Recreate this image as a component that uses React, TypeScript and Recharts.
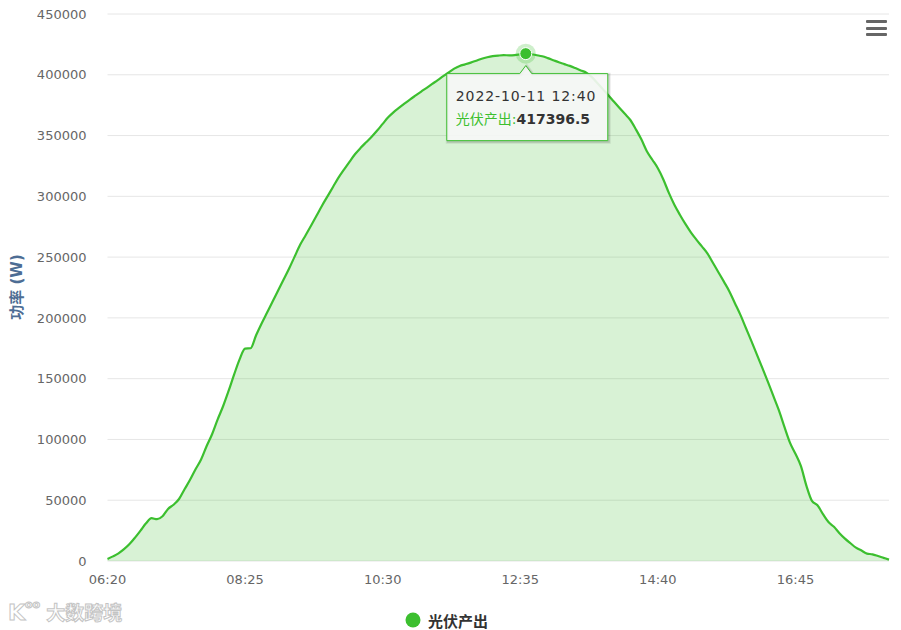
import React from "react";
import { AreaChart, Area, XAxis, YAxis, CartesianGrid, Legend, ReferenceDot } from "recharts";

const times = [
  "06:20","06:25","06:30","06:35","06:40","06:45","06:50","06:55",
  "07:00","07:05","07:10","07:15","07:20","07:25","07:30","07:35","07:40","07:45","07:50","07:55",
  "08:00","08:05","08:10","08:15","08:20","08:25","08:30","08:35","08:40","08:45","08:50","08:55",
  "09:00","09:05","09:10","09:15","09:20","09:25","09:30","09:35","09:40","09:45","09:50","09:55",
  "10:00","10:05","10:10","10:15","10:20","10:25","10:30","10:35","10:40","10:45","10:50","10:55",
  "11:00","11:05","11:10","11:15","11:20","11:25","11:30","11:35","11:40","11:45","11:50","11:55",
  "12:00","12:05","12:10","12:15","12:20","12:25","12:30","12:35","12:40","12:45","12:50","12:55",
  "13:00","13:05","13:10","13:15","13:20","13:25","13:30","13:35","13:40","13:45","13:50","13:55",
  "14:00","14:05","14:10","14:15","14:20","14:25","14:30","14:35","14:40","14:45","14:50","14:55",
  "15:00","15:05","15:10","15:15","15:20","15:25","15:30","15:35","15:40","15:45","15:50","15:55",
  "16:00","16:05","16:10","16:15","16:20","16:25","16:30","16:35","16:40","16:45","16:50","16:55",
  "17:00","17:05","17:10","17:15","17:20","17:25","17:30","17:35","17:40","17:45","17:50","17:55",
  "18:00","18:05","18:10",
];

const power = [
  1700, 3800, 6300, 9700, 13900, 19200, 25000, 31000, 35200, 34400,
  36800, 42800, 46300, 51000, 59000, 66800, 75500, 83500, 94400, 104300,
  116300, 127300, 139900, 153300, 165900, 174700, 175000, 185700, 195400, 204400,
  213400, 222500, 231500, 240600, 250400, 260100, 268000, 276000, 284200, 292500,
  300200, 307900, 315600, 322200, 328600, 334800, 339900, 344500, 349000, 354100,
  359600, 365000, 369300, 372900, 376400, 379800, 383000, 386200, 389300, 392500,
  395600, 398900, 402000, 405100, 407300, 408600, 410000, 411600, 413200, 414400,
  415300, 415800, 416100, 416000, 416200, 416800, 417396.5, 416900, 416100, 415200,
  413700, 412000, 410300, 408800, 407300, 405500, 403600, 401800, 398100, 393300,
  388200, 383200, 378000, 372900, 367900, 362800, 355200, 346900, 337100, 330100,
  323100, 313900, 302800, 293100, 284900, 277300, 270400, 264400, 258800, 253100,
  245400, 237600, 229800, 221800, 212100, 202500, 191700, 180900, 169800, 158700,
  147300, 135600, 123900, 110300, 97400, 88200, 78000, 61800, 49500, 45900,
  38600, 32100, 28100, 22900, 18400, 14600, 11000, 8600, 6100, 5500,
  4100, 2600, 1100,
];

const yTicks = [0, 50000, 100000, 150000, 200000, 250000, 300000, 350000, 400000, 450000];
const seriesName = "光伏产出";
const yTitle = "功率 (W)";
const hoverIndex = 76;
const hoverDate = "2022-10-11";

const data = times.map((t, i) => ({ time: t, power: power[i] }));

const GREEN = "#3cbf2f";
const FONT = "'DejaVu Sans', 'Noto Sans CJK SC', sans-serif";

const HoverShape = (props: any) => {
  const { cx, cy } = props;
  if (cx == null || cy == null) return null;
  const L = cx - 79;
  const R = cx + 82;
  const T = cy + 20;
  const B = cy + 87;
  const d = `M ${L} ${T} L ${cx - 6} ${T} L ${cx} ${cy + 12} L ${cx + 6} ${T} L ${R} ${T} L ${R} ${B} L ${L} ${B} Z`;
  const p = data[hoverIndex];
  return (
    <g>
      <circle cx={cx} cy={cy} r={10} fill={GREEN} fillOpacity={0.25} />
      <circle cx={cx} cy={cy} r={6} fill={GREEN} stroke="#fff" strokeWidth={1} />
      <path d={d} transform="translate(1,1)" fill="none" stroke="rgba(0,0,0,0.08)" strokeWidth={4} />
      <path d={d} transform="translate(1,1)" fill="none" stroke="rgba(0,0,0,0.12)" strokeWidth={2} />
      <path d={d} fill="rgba(247,247,247,0.9)" stroke={GREEN} strokeWidth={1} />
      <text x={L + 9} y={T + 27.5} fontFamily={FONT} fontSize={14} fill="#333" letterSpacing={0.9}>
        {`${hoverDate} ${p.time}`}
      </text>
      <text x={L + 9} y={T + 50} fontFamily={FONT} fontSize={14}>
        <tspan fill={GREEN}>{seriesName}:</tspan>
        <tspan fill="#333" fontWeight="bold">{p.power}</tspan>
      </text>
    </g>
  );
};

const LegendContent = () => (
  <div
    style={{
      display: "flex",
      justifyContent: "center",
      alignItems: "center",
      height: 20,
      paddingRight: 8,
      fontFamily: FONT,
    }}
  >
    <svg width={16} height={16} style={{ marginRight: 7 }}>
      <circle cx={8} cy={8} r={7.5} fill={GREEN} />
    </svg>
    <span style={{ fontSize: 15, fontWeight: "bold", color: "#333" }}>{seriesName}</span>
  </div>
);

const YTitle = () => (
  <text
    x={17}
    y={287}
    transform="rotate(-90, 17, 287)"
    textAnchor="middle"
    dominantBaseline="central"
    fontFamily={FONT}
    fontSize={15}
    fontWeight="bold"
    fill="#4d6d94"
  >
    {yTitle}
  </text>
);

export default function App() {
  return (
    <div style={{ position: "absolute", left: 0, top: 0, width: 901, height: 630, background: "#fff", fontFamily: FONT }}>
      <AreaChart
        width={901}
        height={630}
        data={data}
        margin={{ top: 14, right: 12, left: 47.5, bottom: 0 }}
      >
        <CartesianGrid vertical={false} stroke="#e6e6e6" strokeWidth={1} />
        <XAxis
          dataKey="time"
          interval={24}
          axisLine={false}
          tickLine={false}
          tickSize={0}
          tickMargin={14}
          height={49}
          tick={{ fill: "#666", fontSize: 13, fontFamily: FONT }}
        />
        <YAxis
          domain={[0, 450000]}
          ticks={yTicks}
          width={60}
          axisLine={false}
          tickLine={false}
          tickSize={0}
          tickMargin={21}
          tick={{ fill: "#666", fontSize: 13, fontFamily: FONT }}
          label={<YTitle />}
        />
        <Legend
          verticalAlign="bottom"
          height={20}
          content={<LegendContent />}
          wrapperStyle={{ left: 0, width: 901 }}
        />
        <Area
          type="monotone"
          dataKey="power"
          name={seriesName}
          stroke={GREEN}
          strokeWidth={2.2}
          fill={GREEN}
          fillOpacity={0.2}
          isAnimationActive={false}
          dot={false}
          activeDot={false}
        />
        <ReferenceDot
          x={times[hoverIndex]}
          y={power[hoverIndex]}
          shape={<HoverShape />}
          ifOverflow="visible"
        />
      </AreaChart>
      <div style={{ position: "absolute", left: 866, top: 20 }}>
        {[0, 6.5, 13].map((o) => (
          <div key={o} style={{ position: "absolute", top: o, left: 0, width: 21, height: 3, background: "#666", borderRadius: 1 }} />
        ))}
      </div>
      <div
        style={{
          position: "absolute",
          left: 8,
          top: 598,
          fontSize: 19,
          fontWeight: "bold",
          color: "#fff",
          WebkitTextStroke: "1px #c4c4c4",
          fontFamily: FONT,
          whiteSpace: "nowrap",
        }}
      >
        <span style={{ fontSize: 22 }}>K</span>
        <span style={{ fontSize: 11, verticalAlign: "top", marginRight: 6 }}>oo</span>
        大数跨境
      </div>
    </div>
  );
}
